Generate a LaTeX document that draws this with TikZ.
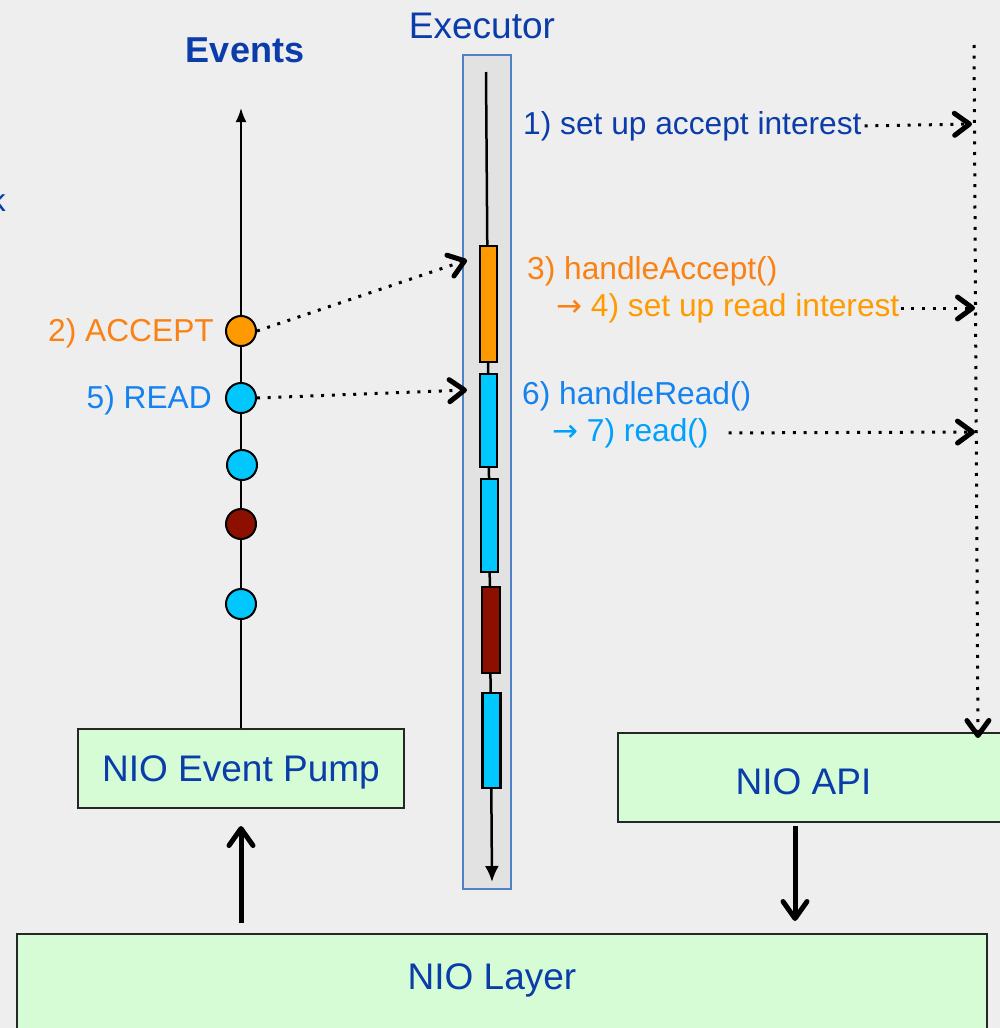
\documentclass[tikz,border=0pt]{standalone}
\usepackage{fontspec}
\setmainfont{Liberation Sans}
\newfontfamily\arrowfont{DejaVu Sans}
\usetikzlibrary{arrows.meta}
\definecolor{bgc}{RGB}{238,238,238}
\definecolor{boxgreen}{RGB}{213,252,213}
\definecolor{execfill}{RGB}{226,226,226}
\definecolor{execborder}{RGB}{80,130,200}
\definecolor{dblue}{RGB}{10,60,170}
\definecolor{orfill}{RGB}{255,153,0}
\definecolor{cyfill}{RGB}{0,200,255}
\definecolor{drfill}{RGB}{140,15,0}
\definecolor{ortxtA}{RGB}{250,130,20}
\definecolor{ortxtB}{RGB}{255,155,0}
\definecolor{bltxtA}{RGB}{20,130,240}
\definecolor{bltxtB}{RGB}{0,160,255}
\newcommand{\rarr}{{\arrowfont\fontsize{31}{37}\selectfont →}}
\begin{document}
\begin{tikzpicture}[x=1pt,y=-1pt,
  lbl/.style={font=\fontsize{31.7}{38}\selectfont, inner sep=0pt},
  big/.style={font=\fontsize{37}{44}\selectfont, inner sep=0pt, text=dblue},
  greenbox/.style={draw=black!85, line width=2pt, fill=boxgreen, inner sep=0pt},
  evdot/.style={circle, draw=black, line width=2pt, minimum size=30pt, inner sep=0pt},
  barbox/.style={draw=black, line width=2.5pt, minimum width=17pt, inner sep=0pt},
  dotarrow/.style={line width=3pt, dash pattern=on 3pt off 7.7pt,
     -{Straight Barb[length=15pt,width=22pt,line width=5pt,round]}},
  thickarrow/.style={line width=5pt, -{Straight Barb[length=17pt,width=24pt,line width=5pt,round]}},
  execarrow/.style={line width=2.5pt, -{Latex[length=16pt,width=14pt]}},
  axisarrow/.style={line width=2pt, -{Latex[length=14pt,width=11pt]}}
]
\useasboundingbox (0,0) rectangle (1000,1028);
\clip (0,0) rectangle (1000,1028);
\fill[bgc] (0,0) rectangle (1000,1028);

% partial letter at the left border (cut off in the original as well)
\node[lbl, text=dblue, anchor=east] (kk) at (6,200) {k};

% titles
\node[font=\fontsize{36}{43}\selectfont\bfseries, text=dblue, inner sep=0pt] (events) at (245,50) {Events};
\node[big] (exectitle) at (482,26) {Executor};

% executor column
\node[draw=execborder, line width=1.8pt, fill=execfill, minimum width=48pt, minimum height=834pt, inner sep=0pt] (exec) at (487,472) {};
\coordinate (extop) at (486,72);
\coordinate (exbot) at (492,882);
\draw[execarrow] (extop) -- (exbot);
\node[barbox, fill=orfill, minimum height=116pt] (b1) at (488.5,304) {};
\node[barbox, fill=cyfill, minimum height=93pt] (b2) at (488.5,420.5) {};
\node[barbox, fill=cyfill, minimum height=93pt] (b3) at (489.5,525.5) {};
\node[barbox, fill=drfill, minimum height=86pt, minimum width=18pt] (b4) at (491,630) {};
\node[barbox, fill=cyfill, minimum height=95pt, minimum width=18pt] (b5) at (491.5,740.5) {};

% boxes
\node[greenbox, minimum width=326pt, minimum height=79pt] (pump) at (241,768.5) {};
\node[big] (pumptext) at (241,772) {NIO Event Pump};
\node[greenbox, minimum width=400pt, minimum height=89pt] (api) at (818,777.5) {};
\node[big] (apitext) at (803.5,782) {NIO API};
\node[greenbox, minimum width=970pt, minimum height=120pt] (layer) at (502,994) {};
\node[big] (layertext) at (492,980) {NIO Layer};

% events axis
\coordinate (evtop) at (241,108);
\draw[axisarrow] (pump.north) -- (evtop);
\node[evdot, fill=orfill] (c1) at (241,331) {};
\node[evdot, fill=cyfill] (c2) at (241,398) {};
\node[evdot, fill=cyfill] (c3) at (242,465) {};
\node[evdot, fill=drfill] (c4) at (241,524) {};
\node[evdot, fill=cyfill] (c5) at (241,604) {};

\node[lbl, text=ortxtA, anchor=east] (lacc) at (214,333) {2) ACCEPT};
\node[lbl, text=bltxtA, anchor=east] (lread) at (212,400) {5) READ};

% dotted arrows from events to executor bars
\coordinate (a1) at (467,260);
\coordinate (a2) at (467,390);
\draw[dotarrow] (c1.east) -- (a1);
\draw[dotarrow] (c2.east) -- (a2);

% right side texts
\node[lbl, text=dblue, anchor=west] (t1) at (523,126) {1) set up accept interest};
\node[lbl, text=ortxtA, anchor=west] (t3) at (527,271) {3) handleAccept()};
\node[lbl, text=ortxtB, anchor=west] (t4) at (556,308) {\textcolor{ortxtA}{\rarr} 4) set up read interest};
\node[lbl, text=bltxtA, anchor=west] (t6) at (522,396) {6) handleRead()};
\node[lbl, text=bltxtB, anchor=west] (t7) at (552,433) {\rarr{} 7) read()};

% right dotted vertical line down to NIO API
\coordinate (rtop) at (974,45);
\coordinate (rbot) at (978,738);
\draw[dotarrow] (rtop) -- (rbot);

\coordinate (r1) at (972,124);
\coordinate (r4) at (975,308);
\coordinate (r7) at (975,432);
\draw[dotarrow, shorten <=3pt] (t1.east) -- (r1);
\draw[dotarrow, shorten <=1pt] (t4.east) -- (r4);
\draw[dotarrow, shorten <=20pt] (t7.east) -- (r7);

% thick arrows between layers
\draw[thickarrow, shorten <=10pt, shorten >=17pt] (layer.north -| pump.south) -- (pump.south);
\draw[thickarrow, shorten <=3pt, shorten >=12pt] (api.south -| 795,0) -- (795,0 |- layer.north);
\end{tikzpicture}
\end{document}
